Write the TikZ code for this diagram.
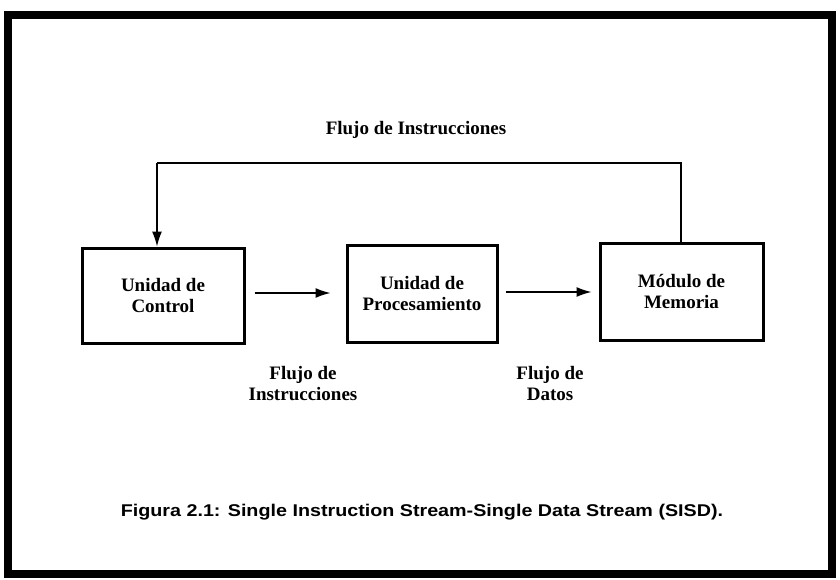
\documentclass[tikz,border=0pt]{standalone}
\usepackage{fontspec}
\setmainfont{Liberation Serif}
\newfontfamily\capsans{Liberation Sans}
\usetikzlibrary{arrows.meta}
\tikzset{
  unit/.style={draw, line width=3pt, minimum width=162pt, minimum height=95pt,
    align=center, font=\fontsize{19}{21}\selectfont\bfseries, inner sep=0pt},
  lbl/.style={align=center, font=\fontsize{19}{21}\selectfont\bfseries, inner sep=0pt},
  flow/.style={line width=1.4pt, -{Latex[length=15pt,width=10pt]}},
}
\begin{document}
\begin{tikzpicture}[x=1pt,y=-1pt]
  \useasboundingbox (0,0) rectangle (840,580);
  % page frame
  \draw[line width=8pt] (8,15) rectangle (832,574);

  % functional units
  \node[unit, minimum width=162pt, minimum height=95pt] (cu) at (163,295.5) {Unidad de\\Control};
  \node[unit, minimum width=150pt, minimum height=97pt] (pu) at (422,293.5) {Unidad de\\Procesamiento};
  \node[unit, minimum width=163pt, minimum height=97pt] (mm) at (681.5,291.5) {Módulo de\\Memoria};

  % forward streams
  \draw[flow, shorten <=9pt, shorten >=15pt] (cu.east |- 0,293) -- (pu.west |- 0,293);
  \draw[flow, shorten <=7pt, shorten >=7pt] (pu.east |- 0,292) -- (mm.west |- 0,292);

  % instruction stream fed back from memory to control
  \coordinate (fbR) at (681,163);
  \coordinate (fbL) at (157,163);
  \draw[line width=1.3pt] (mm.north -| fbR) -- (fbR) -- (fbL)
    edge[flow, line width=1.3pt] (fbL |- cu.north);

  % stream labels
  \node[lbl] (tfi) at (416,130) {Flujo de Instrucciones};
  \node[lbl] (lfi) at (303,384) {Flujo de\\Instrucciones};
  \node[lbl] (lfd) at (550,383) {Flujo de\\Datos};

  % caption
  \node[inner sep=0pt] (cap) at (422,512)
    {\scalebox{1.16}[1.0]{\capsans\fontsize{17}{20}\selectfont\bfseries Figura 2.1: Single Instruction Stream-Single Data Stream (SISD).}};
\end{tikzpicture}
\end{document}
